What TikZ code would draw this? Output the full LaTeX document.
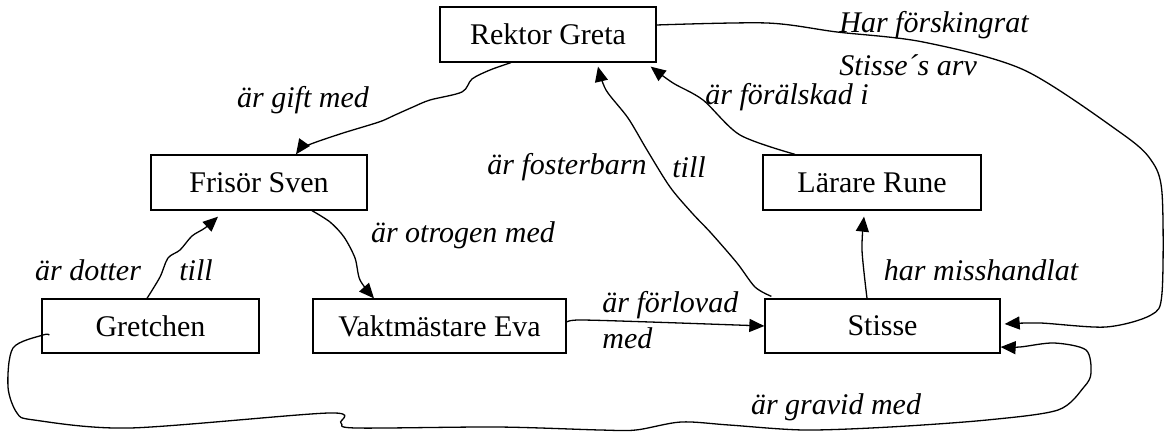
\documentclass[tikz,border=0pt]{standalone}
\usepackage{fontspec}
\setmainfont{Liberation Serif}
\usetikzlibrary{arrows.meta}
\begin{document}
\begin{tikzpicture}[x=0.5pt,y=-0.5pt,
  box/.style={draw, line width=0.65pt, inner sep=0pt, font=\fontsize{15}{18}\selectfont, minimum height=27.5pt},
  lab/.style={font=\fontsize{15}{18}\selectfont\itshape, inner sep=0pt},
  con/.style={line width=0.65pt, -{Triangle[length=7.5pt,width=6.5pt]}}]
\useasboundingbox (0,0) rectangle (1165,432);

% nodes
\node[box, minimum width=108pt] (rg) at (548,34.5) {Rektor Greta};
\node[box, minimum width=108pt] (fs) at (259,182.5) {Frisör Sven};
\node[box, minimum width=109pt] (lr) at (872,182.5) {Lärare Rune};
\node[box, minimum width=108.5pt, minimum height=27pt] (gr) at (150.5,326) {Gretchen};
\node[box, minimum width=126.5pt, minimum height=27pt] (ve) at (439.5,326) {Vaktmästare Eva};
\node[box, minimum width=117.5pt, minimum height=27pt] (st) at (882.5,326) {Stisse};

% labels
\node[lab] (l1) at (303,100) {är gift med};
\node[lab] (l2) at (463,235) {är otrogen med};
\node[lab] (l3a) at (88,270) {är dotter};
\node[lab] (l3b) at (196,270) {till};
\node[lab] (l4a) at (567,167) {är fosterbarn};
\node[lab] (l4b) at (689,167) {till};
\node[lab] (l5) at (787,97) {är förälskad i};
\node[lab, anchor=west] (l6a) at (839,25) {Har förskingrat};
\node[lab, anchor=west] (l6b) at (839,65) {Stisse´s arv};
\node[lab] (l7) at (981,270) {har misshandlat};
\node[lab, anchor=west] (l8a) at (602,305) {är förlovad};
\node[lab, anchor=west] (l8b) at (602,338) {med};
\node[lab] (l9) at (836,407) {är gravid med};

% connectors
\draw[con] plot[smooth, tension=0.5] coordinates {([xshift=-18.5pt]rg.south) (490,70) (472,79) (462,92) (430,100) (413,107) (395,115) (379,122) (340,134) (306,146) ([xshift=18.5pt]fs.north)};
\draw[con] plot[smooth, tension=0.5] coordinates {([xshift=26.5pt]fs.south) (330,222) (344,237) (355,258) (360,280) ([xshift=-32.75pt]ve.north)};
\draw[con] plot[smooth, tension=0.5] coordinates {([xshift=-1.75pt]gr.north) (160,277) (168,258) (180,250) (192,236) (205,228) ([xshift=-20.5pt,yshift=-3pt]fs.south)};
\draw[con] plot[smooth, tension=0.5] coordinates {([xshift=3.5pt,yshift=1pt]st.north west) (755,287) (737,263) (711,233) (692,213) (670,187) (647,150) (628,118) (606,90) ([xshift=25pt,yshift=-2pt]rg.south)};
\draw[con] plot[smooth, tension=0.5] coordinates {([xshift=-38.5pt]lr.north) (740,135) (703,100) (673,83) ([xshift=-3pt,yshift=-2pt]rg.south east)};
\draw[con] plot[smooth, tension=0.5] coordinates {([xshift=-7.75pt]st.north) (862,250) ([xshift=-4pt,yshift=-3pt]lr.south)};
\draw[con] plot[smooth, tension=0.5] coordinates {([yshift=2pt]ve.east) (580,320) (650,322) (st.west)};
\draw[con] plot[smooth, tension=0.5] coordinates {([yshift=4.75pt]rg.east) (767,23) (837,32) (923,42) (1024,70) (1121,133) (1151,160) (1162,193) (1162,293) (1151,315) (1106,327) (1040,323) ([xshift=2pt,yshift=1pt]st.east)};
\draw[con] plot[smooth, tension=0.5] coordinates {([xshift=4pt,yshift=-4.5pt]gr.west) (43,335) (13,348) (8,387) (17,413) (34,420) (130,428) (329,413) (341,423) (356,428) (497,427) (600,430) (636,430) (681,422) (729,425) (804,430) (890,427) (987,420) (1058,410) (1084,387) (1091,373) (1086,350) (1054,343) (1020,347) ([yshift=-10.5pt]st.east)};
\end{tikzpicture}
\end{document}
